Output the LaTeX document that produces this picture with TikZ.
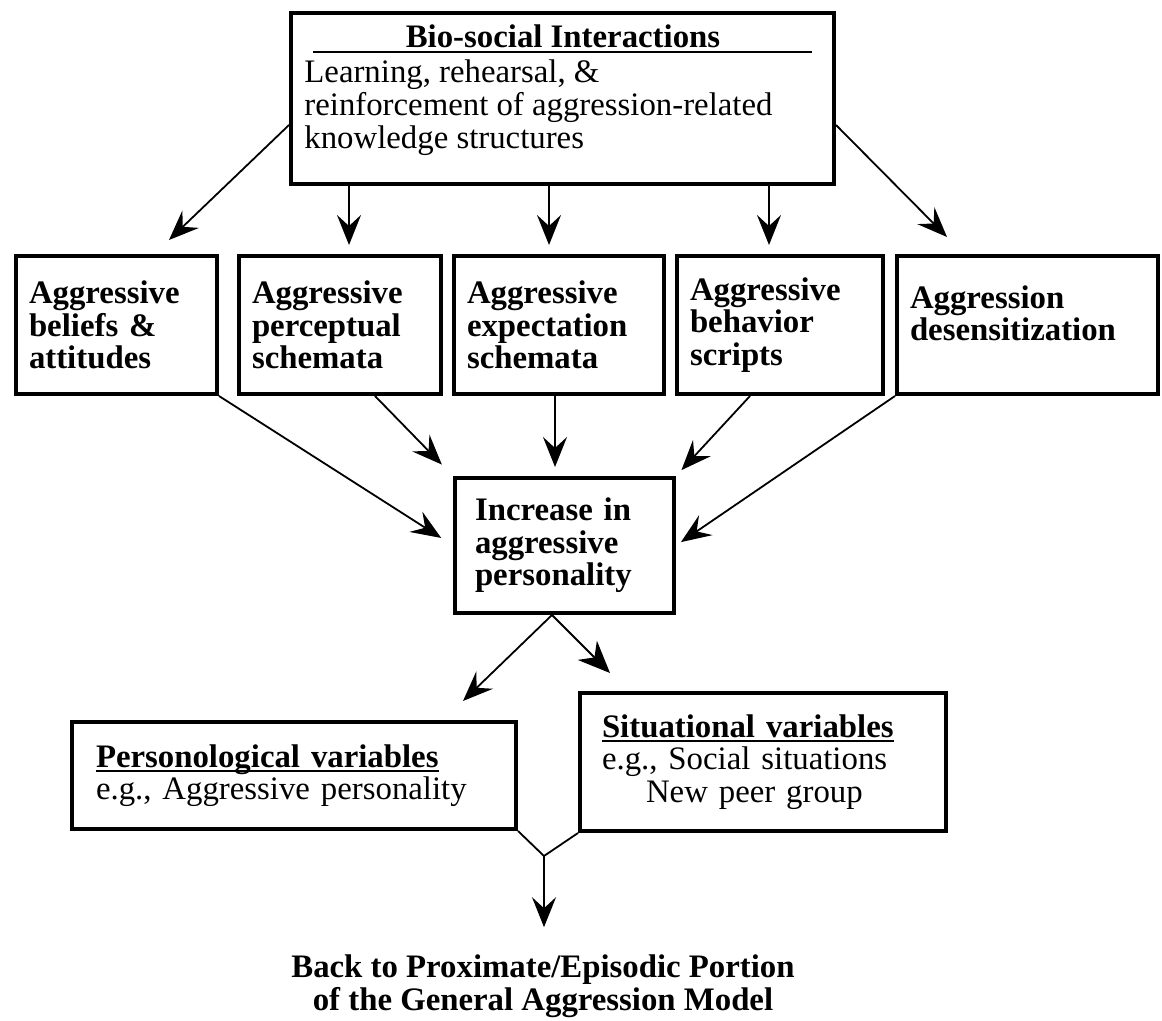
\documentclass[tikz,border=0pt]{standalone}
\usepackage{fontspec}
\setmainfont{Liberation Serif}
\usetikzlibrary{arrows.meta}
\newcommand{\undr}[1]{\setbox0\hbox{#1}\rlap{\rule[-2.2pt]{\wd0}{0.8pt}}\box0}

\begin{document}
\begin{tikzpicture}[x=0.5pt,y=-0.5pt]
  \tikzstyle{every node}=[font=\fontsize{16.4}{16.2}\selectfont,inner sep=0pt]
  \tikzstyle{box}=[draw,line width=2pt,anchor=north west,align=left,
                   inner xsep=6.5pt,font=\fontsize{16.4}{16.2}\selectfont\bfseries]
  \tikzstyle{arr}=[line width=0.9pt,-{Stealth[length=15pt,width=12pt,inset=5.5pt]}]
  \tikzstyle{bigarr}=[line width=1pt,-{Stealth[length=16pt,width=13.5pt,inset=5pt]}]
  \useasboundingbox (0,0) rectangle (1162,1021);

  % top box
  \node[box,minimum width=271.5pt,minimum height=85.5pt] (bio) at (289,11) {};
  \node[anchor=base,font=\fontsize{16.4}{16.2}\selectfont\bfseries] (biotitle) at (563,48)
       {Bio-social Interactions};
  \draw[line width=0.8pt] (313,52) -- (812,52);
  \node[anchor=north west,align=left,font=\fontsize{16.4}{16.6}\selectfont] (biotext) at (304,59)
       {Learning, rehearsal, \&\\reinforcement of aggression-related\\knowledge structures};

  % knowledge structures
  \node[box,text width=87.5pt,minimum height=69pt] (beliefs) at (14,254)
       {Aggressive\\beliefs \&\\attitudes};
  \node[box,text width=88pt,minimum height=69pt] (percept) at (237,254)
       {Aggressive\\perceptual\\schemata};
  \node[box,text width=92pt,minimum height=69pt] (expect) at (452,254)
       {Aggressive\\expectation\\schemata};
  \node[box,text width=90pt,minimum height=69pt] (scripts) at (675,254)
       {Aggressive\\behavior\\scripts};
  \node[box,text width=117.5pt,text depth=28pt,minimum height=69pt] (desens) at (895,254)
       {Aggression\\desensitization};

  \node[box,inner xsep=10pt,text width=89.5pt,minimum height=67.5pt] (incr) at (453,476)
       {Increase in\\aggressive\\personality};

  % input variables
  \node[box,inner xsep=12pt,text width=198pt,minimum height=53.5pt,font=\fontsize{16.4}{16.2}\selectfont]
       (person) at (70,720)
       {\undr{\textbf{Personological variables}}\\e.g., Aggressive personality};
  \node[box,inner xsep=11pt,text width=161pt,minimum height=69pt,font=\fontsize{16.4}{16.2}\selectfont]
       (situat) at (578,691)
       {\undr{\textbf{Situational variables}}\\e.g., Social situations\\\hspace*{22pt}New peer group};

  \node[align=center,font=\fontsize{16.4}{16.4}\selectfont\bfseries] (back) at (543,986)
       {Back to Proximate/Episodic Portion\\of the General Aggression Model};

  \coordinate (tipa) at (169,240);
  \coordinate (tipb) at (947,237);
  \coordinate (apex) at ([xshift=-6.25pt]incr.south);
  \coordinate (tipc) at (463,701);
  \coordinate (tipd) at (610,673);
  \coordinate (merge) at (544,856);

  % from bio-social interactions
  \draw[arr] ([yshift=-13.25pt]bio.west) -- (tipa);
  \draw[arr] ([yshift=-13.25pt]bio.east) -- (tipb);
  \draw[arr,shorten >=4.5pt] ([xshift=-106.75pt]bio.south) -- ([xshift=-106.75pt]bio.south |- percept.north);
  \draw[arr,shorten >=4.5pt] ([xshift=-6.75pt]bio.south) -- ([xshift=-6.75pt]bio.south |- expect.north);
  \draw[arr,shorten >=4.5pt] ([xshift=103.25pt]bio.south) -- ([xshift=103.25pt]bio.south |- scripts.north);

  % into the personality box
  \draw[arr,shorten >=7pt] (beliefs.south east) -- (incr.west);
  \draw[arr,shorten >=8pt] ([xshift=17.5pt]percept.south) -- (incr.north west);
  \draw[arr,shorten >=4.5pt] ([xshift=-2pt]expect.south) -- ([xshift=-2pt]expect.south |- incr.north);
  \draw[arr,shorten >=4pt] ([xshift=-15pt]scripts.south) -- (incr.north east);
  \draw[arr,shorten >=3pt] (desens.south west) -- (incr.east);

  % out of it
  \draw[arr] (apex) -- (tipc);
  \draw[bigarr] (apex) -- (tipd);
  \draw[line width=0.9pt] (person.south east) -- (merge) -- (situat.south west);
  \draw[arr,shorten >=13.5pt] (merge) -- (merge |- back.north);
\end{tikzpicture}
\end{document}
